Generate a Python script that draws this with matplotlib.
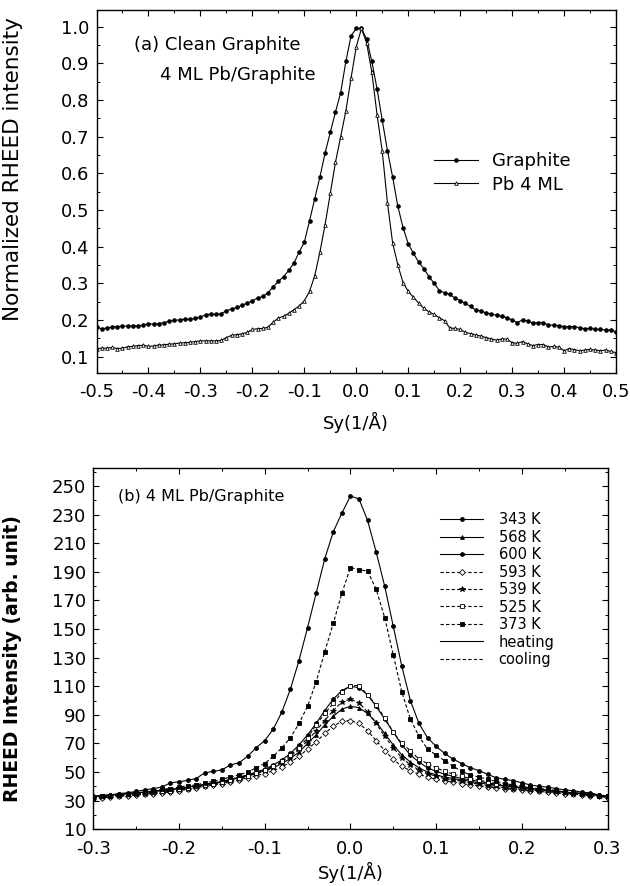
import numpy as np
import matplotlib
matplotlib.use('Agg')
import matplotlib.pyplot as plt
from matplotlib.ticker import MultipleLocator, FormatStrFormatter

plt.rcParams['font.family'] = ['DejaVu Sans']
plt.rcParams['axes.unicode_minus'] = False

# panel (a): normalized profiles, Sy from -0.5 to 0.5 in 0.01 steps
sy_a = np.round(np.arange(-0.50, 0.501, 0.01), 2)
graphite = [0.180, 0.176, 0.178, 0.181, 0.182, 0.183, 0.183, 0.184, 0.184, 0.186,
            0.190, 0.188, 0.190, 0.193, 0.196, 0.199, 0.200, 0.202, 0.202, 0.204,
            0.208, 0.214, 0.216, 0.215, 0.217, 0.225, 0.230, 0.234, 0.240, 0.246,
            0.252, 0.260, 0.264, 0.274, 0.290, 0.305, 0.318, 0.335, 0.355, 0.385,
            0.412, 0.470, 0.530, 0.590, 0.655, 0.712, 0.767, 0.820, 0.905, 0.975,
            0.995, 0.995, 0.965, 0.905, 0.830, 0.745, 0.662, 0.590, 0.510, 0.452,
            0.408, 0.382, 0.358, 0.340, 0.318, 0.300, 0.280, 0.274, 0.270, 0.259,
            0.253, 0.245, 0.237, 0.227, 0.225, 0.219, 0.216, 0.213, 0.210, 0.206,
            0.200, 0.193, 0.200, 0.197, 0.191, 0.193, 0.193, 0.186, 0.186, 0.184,
            0.182, 0.182, 0.182, 0.179, 0.176, 0.177, 0.175, 0.174, 0.173, 0.172,
            0.168]
pb4ml = [0.122, 0.123, 0.123, 0.125, 0.122, 0.123, 0.127, 0.128, 0.130, 0.131,
         0.128, 0.129, 0.132, 0.132, 0.134, 0.135, 0.137, 0.138, 0.139, 0.141,
         0.143, 0.143, 0.143, 0.143, 0.144, 0.152, 0.158, 0.160, 0.162, 0.166,
         0.174, 0.176, 0.177, 0.180, 0.194, 0.205, 0.210, 0.218, 0.228, 0.238,
         0.252, 0.278, 0.320, 0.385, 0.460, 0.545, 0.630, 0.700, 0.770, 0.860,
         0.945, 0.995, 0.955, 0.875, 0.760, 0.660, 0.520, 0.410, 0.350, 0.302,
         0.278, 0.262, 0.246, 0.232, 0.222, 0.215, 0.206, 0.198, 0.178, 0.177,
         0.174, 0.166, 0.163, 0.159, 0.156, 0.152, 0.148, 0.145, 0.148, 0.148,
         0.138, 0.136, 0.141, 0.135, 0.130, 0.133, 0.133, 0.126, 0.128, 0.126,
         0.116, 0.122, 0.119, 0.116, 0.118, 0.120, 0.118, 0.116, 0.118, 0.114,
         0.111]

# panel (b): temperature series, Sy from -0.3 to 0.3 in 0.01 steps
sy_b = np.round(np.arange(-0.30, 0.301, 0.01), 2)
t343 = [33, 33.5, 34, 35, 35.5, 36.5, 37.5, 38.5, 39.5, 42.5,
        43.2, 44.2, 45.5, 49.5, 50.5, 51.5, 55, 56.5, 61, 67,
        72, 80, 92, 108, 128, 151, 175, 199, 218, 231,
        243, 241, 226, 204, 180, 152, 124, 100, 84, 74,
        68, 63, 59, 56, 53, 51, 48.5, 46, 45, 44,
        42.5, 41, 40, 39.5, 38.5, 37.5, 37, 36, 35.5, 34, 32.5]
t568 = [33, 33.5, 34, 34.5, 35, 35.5, 36, 36.5, 37, 37.5,
        38.5, 39.5, 40.5, 41, 42, 43, 44.5, 46, 47.5, 49,
        51, 53, 56, 59.5, 64, 70, 76, 83, 89, 94,
        96, 95, 91, 85, 77, 69, 62, 57, 53, 50,
        48, 46.5, 45.5, 44.5, 43.5, 42.5, 41.5, 41, 40, 39.5,
        39, 38.5, 38, 37, 36.5, 36, 35.5, 35, 34.5, 34, 33]
t600 = [33, 33.5, 34, 34.5, 35, 35.5, 36, 36.5, 37.5, 38,
        38.5, 39.5, 40.5, 41.5, 42.5, 43.5, 45, 46.5, 48, 50,
        52, 55, 58.5, 63, 69, 76, 84, 93, 101, 107,
        110, 109, 104, 96, 87, 78, 69, 62, 57, 53,
        50.5, 48.5, 47, 45.5, 44.5, 43.5, 42.5, 41.5, 40.5, 40,
        39, 38.5, 38, 37.5, 37, 36, 35.5, 35, 34.5, 34, 33]
t593 = [31.5, 32, 32.5, 33, 33.5, 34, 34.5, 35, 35.5, 36,
        37, 38, 39, 40, 41, 42, 43, 44.5, 46, 47.5,
        49, 51, 53.5, 57, 61, 66, 71, 77, 82, 85.5,
        86, 84, 79, 72, 65, 59, 54, 51, 48.5, 46.5,
        45, 44, 43, 42, 41, 40.5, 39.5, 39, 38.5, 38,
        37.5, 37, 36.5, 36, 35.5, 35, 34.5, 34, 33.5, 33, 32]
t539 = [32, 32.5, 33, 33.5, 34, 34.5, 35, 35.5, 36, 36.5,
        37.5, 38.5, 39.5, 40.5, 41.5, 42.5, 44, 45.5, 47, 49,
        51, 53.5, 57, 61, 66, 72, 79, 86, 93, 99,
        101, 98.5, 92, 84, 75, 67, 60, 55, 51.5, 49,
        47, 45.5, 44.5, 43.5, 42.5, 41.5, 40.5, 40, 39, 38.5,
        38, 37.5, 37, 36.5, 36, 35.5, 35, 34.5, 34, 33.5, 32.5]
t525 = [32.5, 33, 33.5, 34, 34.5, 35, 35.5, 36, 36.5, 37,
        38, 39, 40, 41, 42, 43, 44.5, 46, 47.5, 49.5,
        51.5, 54, 57.5, 62, 67, 74, 83, 91, 98, 106,
        110.5, 110.5, 104, 97, 88, 78, 70, 65, 59, 56,
        53, 50.5, 48.5, 47, 45.5, 44.5, 43, 42, 41, 40.5,
        39.5, 38.5, 38, 37.5, 36.5, 36, 35.5, 35, 34, 33.5, 33]
t373 = [32, 33, 33.5, 34, 35, 35.5, 36, 37, 38, 38.5,
        39.5, 40.5, 41, 42.5, 43.5, 45, 46.5, 48, 50, 53,
        56, 61, 67, 74, 84, 96, 113, 134, 154, 175,
        193, 191.5, 190.5, 178, 158, 132, 106, 87, 75, 66,
        62, 58, 54, 50.5, 48, 46.5, 45, 43.5, 42, 41,
        40, 39, 38.5, 38, 37, 36, 35.5, 35, 34, 33.5, 33]
yticks_b = np.arange(10, 251, 20)

fig = plt.figure(figsize=(6.3, 8.86), dpi=100)
ax1 = fig.add_axes([0.1532, 0.5793, 0.8246, 0.4097])
ax2 = fig.add_axes([0.1481, 0.0640, 0.8162, 0.4081])

# ---- panel (a)
ax1.plot(sy_a, graphite, color='black', lw=0.8, marker='o', ms=2.3,
         mfc='black', mec='black', label='Graphite')
ax1.plot(sy_a, pb4ml, color='black', lw=0.8, marker='^', ms=2.6,
         mfc='white', mec='black', mew=0.6, label='Pb 4 ML')
ax1.set_xlim(-0.5, 0.5)
ax1.set_ylim(0.056, 1.046)
ax1.xaxis.set_major_locator(MultipleLocator(0.1))
ax1.xaxis.set_minor_locator(MultipleLocator(0.05))
ax1.yaxis.set_major_locator(MultipleLocator(0.1))
ax1.yaxis.set_minor_locator(MultipleLocator(0.05))
ax1.xaxis.set_major_formatter(FormatStrFormatter('%.1f'))
ax1.yaxis.set_major_formatter(FormatStrFormatter('%.1f'))
ax1.set_xlabel('Sy(1/Å)', fontsize=13, labelpad=8)
ax1.set_ylabel('Normalized RHEED intensity', fontsize=15.5)
ax1.yaxis.set_label_coords(-0.141, 0.561)
ax1.text(-0.428, 0.951, '(a) Clean Graphite', fontsize=13, va='center', ha='left')
ax1.text(-0.377, 0.867, '4 ML Pb/Graphite', fontsize=13, va='center', ha='left')
ax1.legend(loc='upper left', bbox_to_anchor=(0.649, 0.607), frameon=False,
           fontsize=13, handlelength=2.45, handletextpad=0.8, borderpad=0,
           borderaxespad=0, labelspacing=0.3)

# ---- panel (b)
styles = [
    (t343, '343 K', '-', 'o', 'black', 2.8),
    (t568, '568 K', '-', '^', 'black', 2.8),
    (t600, '600 K', '-', 'h', 'black', 3.0),
    (t593, '593 K', '--', 'D', 'white', 3.0),
    (t539, '539 K', '--', '*', 'black', 4.0),
    (t525, '525 K', '--', 's', 'white', 3.2),
    (t373, '373 K', '--', 's', 'black', 3.2),
]
for vals, lab, ls, mk, fc, ms in styles:
    ax2.plot(sy_b, vals, color='black', lw=0.8, ls=ls, dashes=(3, 2) if ls == '--' else (None, None),
             marker=mk, ms=ms, mfc=fc, mec='black', mew=0.6, label=lab)
ax2.plot([], [], color='black', lw=0.8, ls='-', label='heating')
ax2.plot([], [], color='black', lw=0.8, ls='--', dashes=(3, 2), label='cooling')
ax2.set_xlim(-0.3, 0.3)
ax2.set_ylim(10, 262.8)
ax2.xaxis.set_major_locator(MultipleLocator(0.1))
ax2.xaxis.set_minor_locator(MultipleLocator(0.05))
ax2.set_yticks(yticks_b)
ax2.yaxis.set_minor_locator(MultipleLocator(10))
ax2.xaxis.set_major_formatter(FormatStrFormatter('%.1f'))
ax2.set_xlabel('Sy(1/Å)', fontsize=13, labelpad=3)
ax2.set_ylabel('RHEED Intensity (arb. unit)', fontsize=13.5, fontweight='bold')
ax2.yaxis.set_label_coords(-0.139, 0.471)
ax2.text(-0.271, 243, '(b) 4 ML Pb/Graphite', fontsize=11.5, va='center', ha='left')
ax2.legend(loc='upper left', bbox_to_anchor=(0.675, 0.877), frameon=False,
           fontsize=10.5, handlelength=2.9, handletextpad=1.1, borderpad=0,
           borderaxespad=0, labelspacing=0.17)

for ax in (ax1, ax2):
    ax.tick_params(which='both', direction='in', top=True, right=True, labelsize=13)
    ax.tick_params(which='major', length=4.5, width=0.8, pad=5)
    ax.tick_params(axis='x', which='major', pad=7.5)
    ax.tick_params(which='minor', length=2.5, width=0.7)
    for sp in ax.spines.values():
        sp.set_linewidth(1.0)

fig.savefig('out.png', dpi=100)
